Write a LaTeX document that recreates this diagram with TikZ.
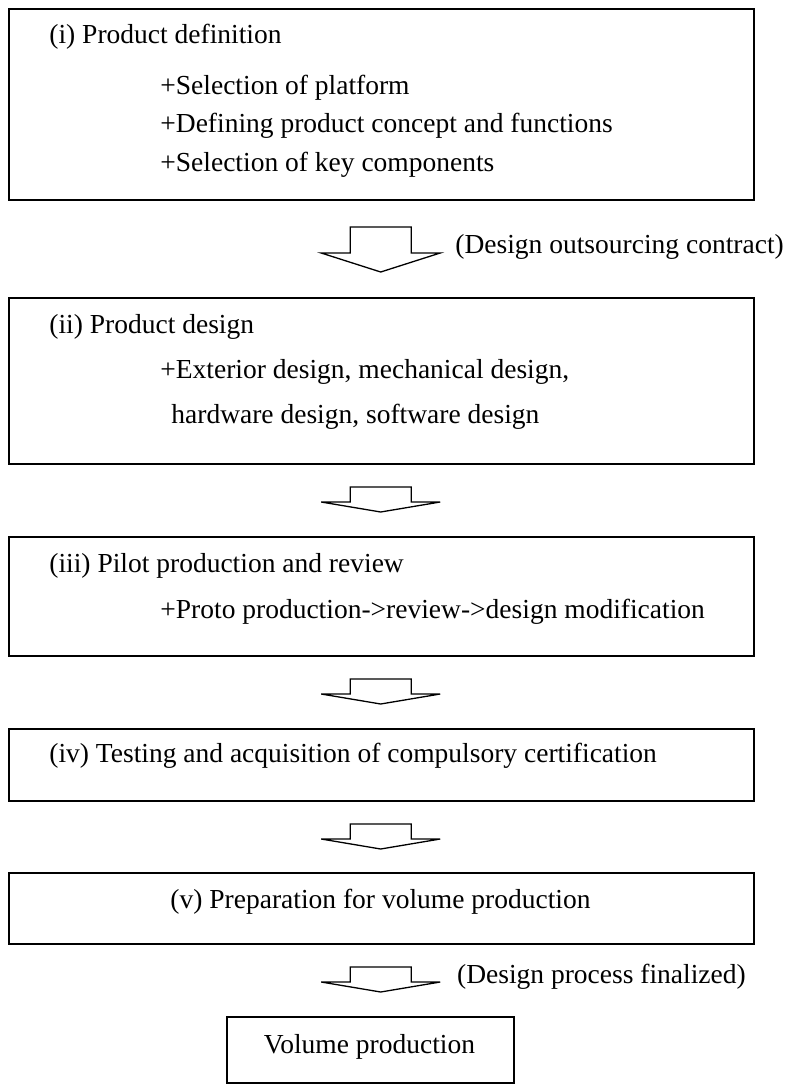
\documentclass[tikz,border=0pt]{standalone}
\usepackage{fontspec}
\setmainfont{Liberation Serif}
\usepackage{tikz}
\usetikzlibrary{positioning}

\tikzset{
    stage/.style={draw, line width=1pt, inner sep=0pt, anchor=north west},
    txt/.style={anchor=base west, inner sep=0pt, font=\fontsize{13.75pt}{16pt}\selectfont},
    ctxt/.style={txt, anchor=base},
    fat/.style={draw, line width=0.65pt, line join=miter}
}

\begin{document}
\begin{tikzpicture}[x=0.5pt, y=-0.5pt]
    \useasboundingbox (0, 0) rectangle (791, 1086);
    % stages
    \node[stage, minimum width=372.5pt, minimum height=95.5pt] (s1) at (8, 8) {};
    \node[stage, minimum width=372.5pt, minimum height=83pt] (s2) at (8, 297) {};
    \node[stage, minimum width=372.5pt, minimum height=59.5pt] (s3) at (8, 536) {};
    \node[stage, minimum width=372.5pt, minimum height=36pt] (s4) at (8, 728) {};
    \node[stage, minimum width=372.5pt, minimum height=35.5pt] (s5) at (8, 872) {};
    \node[stage, minimum width=143.5pt, minimum height=33pt] (s6) at (226, 1016) {};

    % texts
    \node[txt] (s1a) at (49, 44) {(i) Product definition};
    \node[txt] (s1b) at (160, 95) {+Selection of platform};
    \node[txt] (s1c) at (160, 133) {+Defining product concept and functions};
    \node[txt] (s1d) at (160, 171) {+Selection of key components};
    \node[txt] (s2a) at (49, 333) {(ii) Product design};
    \node[txt] (s2b) at (160, 378) {+Exterior design, mechanical design,};
    \node[txt] (s2c) at (171, 423) {hardware design, software design};
    \node[txt] (s3a) at (49, 572) {(iii) Pilot production and review};
    \node[txt] (s3b) at (160, 618) {+Proto production->review->design modification};
    \node[txt] (s4a) at (49, 762) {(iv) Testing and acquisition of compulsory certification};
    \node[ctxt] (s5a) at (380.5, 908) {(v) Preparation for volume production};
    \node[ctxt] (s6a) at (369.5, 1053) {Volume production};

    % arrows
    \begin{scope}[shift={(380.7, 227)}]
        \draw[fat] (-30.5, 0) -- (30.5, 0) -- (30.5, 26) -- (59.5, 26) -- (0, 45) -- (-59.5, 26) -- (-30.5, 26) -- cycle;
    \end{scope}
    \node[txt] (l1) at (455, 253) {(Design outsourcing contract)};
    \begin{scope}[shift={(380.7, 487)}]
        \draw[fat] (-30.5, 0) -- (30.5, 0) -- (30.5, 15) -- (59.5, 15) -- (0, 25) -- (-59.5, 15) -- (-30.5, 15) -- cycle;
    \end{scope}
    \begin{scope}[shift={(380.7, 679)}]
        \draw[fat] (-30.5, 0) -- (30.5, 0) -- (30.5, 15) -- (59.5, 15) -- (0, 25) -- (-59.5, 15) -- (-30.5, 15) -- cycle;
    \end{scope}
    \begin{scope}[shift={(380.7, 824)}]
        \draw[fat] (-30.5, 0) -- (30.5, 0) -- (30.5, 15) -- (59.5, 15) -- (0, 25) -- (-59.5, 15) -- (-30.5, 15) -- cycle;
    \end{scope}
    \begin{scope}[shift={(380.7, 967)}]
        \draw[fat] (-30.5, 0) -- (30.5, 0) -- (30.5, 15) -- (59.5, 15) -- (0, 25) -- (-59.5, 15) -- (-30.5, 15) -- cycle;
    \end{scope}
    \node[txt] (l2) at (456.7, 983) {(Design process finalized)};
\end{tikzpicture}
\end{document}
